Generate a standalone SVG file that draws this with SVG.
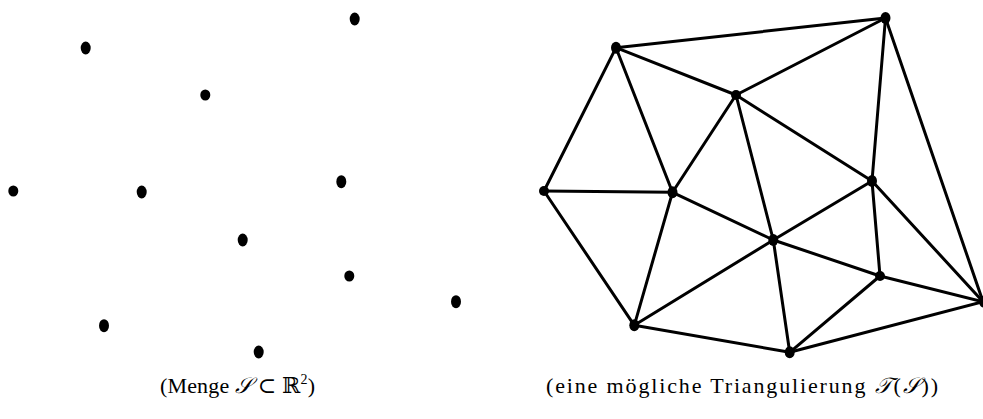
<svg xmlns="http://www.w3.org/2000/svg" width="983" height="419" viewBox="0 0 983 419">
<style>
.pt{fill:#000}
.e{stroke:#000;stroke-width:3;stroke-linecap:round;fill:none}
.cap{font-family:"Liberation Serif","DejaVu Serif",serif;font-size:22px;fill:#000}
.m{font-family:"DejaVu Serif","Noto Sans",serif;font-style:italic}
</style>
<rect width="983" height="419" fill="#fff"/>
<g id="set">
<ellipse class="pt" cx="85.7" cy="48" rx="5" ry="6.5"/>
<ellipse class="pt" cx="354.7" cy="19" rx="5" ry="6.5"/>
<ellipse class="pt" cx="205.3" cy="95" rx="5" ry="5.5"/>
<ellipse class="pt" cx="13.3" cy="191" rx="5" ry="5.5"/>
<ellipse class="pt" cx="141.7" cy="192" rx="5" ry="6.5"/>
<ellipse class="pt" cx="341.3" cy="181.7" rx="5" ry="6.5"/>
<ellipse class="pt" cx="242.7" cy="240" rx="5" ry="6.5"/>
<ellipse class="pt" cx="349.3" cy="276" rx="5" ry="5.5"/>
<ellipse class="pt" cx="456" cy="301.7" rx="5" ry="6.5"/>
<ellipse class="pt" cx="104" cy="325.7" rx="5" ry="6.5"/>
<ellipse class="pt" cx="258.7" cy="352" rx="5" ry="6.5"/>
</g>
<g id="connectors">
<line class="e" x1="616" y1="47.7" x2="885.5" y2="18" stroke-width="2.5"/>
<line class="e" x1="616" y1="47.7" x2="736" y2="95"/>
<line class="e" x1="616" y1="47.7" x2="544" y2="191"/>
<line class="e" x1="616" y1="47.7" x2="672.5" y2="192.3"/>
<line class="e" x1="885.5" y1="18" x2="736" y2="95"/>
<line class="e" x1="885.5" y1="18" x2="872" y2="181"/>
<line class="e" x1="885.5" y1="18" x2="983" y2="301.7"/>
<line class="e" x1="736" y1="95" x2="672.5" y2="192.3"/>
<line class="e" x1="736" y1="95" x2="773.3" y2="240"/>
<line class="e" x1="736" y1="95" x2="872" y2="181"/>
<line class="e" x1="544" y1="191" x2="672.5" y2="192.3" stroke-width="2.5"/>
<line class="e" x1="544" y1="191" x2="634.3" y2="325.3"/>
<line class="e" x1="672.5" y1="192.3" x2="634.3" y2="325.3"/>
<line class="e" x1="672.5" y1="192.3" x2="773.3" y2="240"/>
<line class="e" x1="872" y1="181" x2="773.3" y2="240"/>
<line class="e" x1="872" y1="181" x2="880" y2="276"/>
<line class="e" x1="872" y1="181" x2="983" y2="301.7"/>
<line class="e" x1="773.3" y1="240" x2="634.3" y2="325.3"/>
<line class="e" x1="773.3" y1="240" x2="789.7" y2="352.3"/>
<line class="e" x1="773.3" y1="240" x2="880" y2="276"/>
<line class="e" x1="880" y1="276" x2="789.7" y2="352.3"/>
<line class="e" x1="880" y1="276" x2="983" y2="301.7"/>
<line class="e" x1="634.3" y1="325.3" x2="789.7" y2="352.3"/>
<line class="e" x1="789.7" y1="352.3" x2="983" y2="301.7"/>
</g>
<g id="triangulation-points">
<ellipse class="pt" cx="616" cy="47.7" rx="5" ry="6"/>
<ellipse class="pt" cx="885.5" cy="18" rx="5" ry="6"/>
<ellipse class="pt" cx="736" cy="95" rx="5" ry="5"/>
<ellipse class="pt" cx="544" cy="191" rx="5" ry="5"/>
<ellipse class="pt" cx="672.5" cy="192.3" rx="5" ry="6"/>
<ellipse class="pt" cx="872" cy="181" rx="5" ry="6"/>
<ellipse class="pt" cx="773.3" cy="240" rx="5" ry="6"/>
<ellipse class="pt" cx="880" cy="276" rx="5" ry="5"/>
<ellipse class="pt" cx="984" cy="301.7" rx="5" ry="6"/>
<ellipse class="pt" cx="634.3" cy="325.3" rx="5" ry="6"/>
<ellipse class="pt" cx="789.7" cy="352.3" rx="5" ry="6"/>
</g>
<g id="captions">
<text class="cap" x="160" y="393" textLength="155" lengthAdjust="spacing">(Menge <tspan class="m">𝒮</tspan> ⊂ <tspan font-family="DejaVu Serif">ℝ</tspan><tspan font-size="14" dy="-9">2</tspan><tspan dy="9">)</tspan></text>
<text class="cap" x="546" y="393" textLength="392" lengthAdjust="spacing">(eine mögliche Triangulierung <tspan class="m">𝒯</tspan>(<tspan class="m">𝒮</tspan>))</text>
</g>
</svg>
